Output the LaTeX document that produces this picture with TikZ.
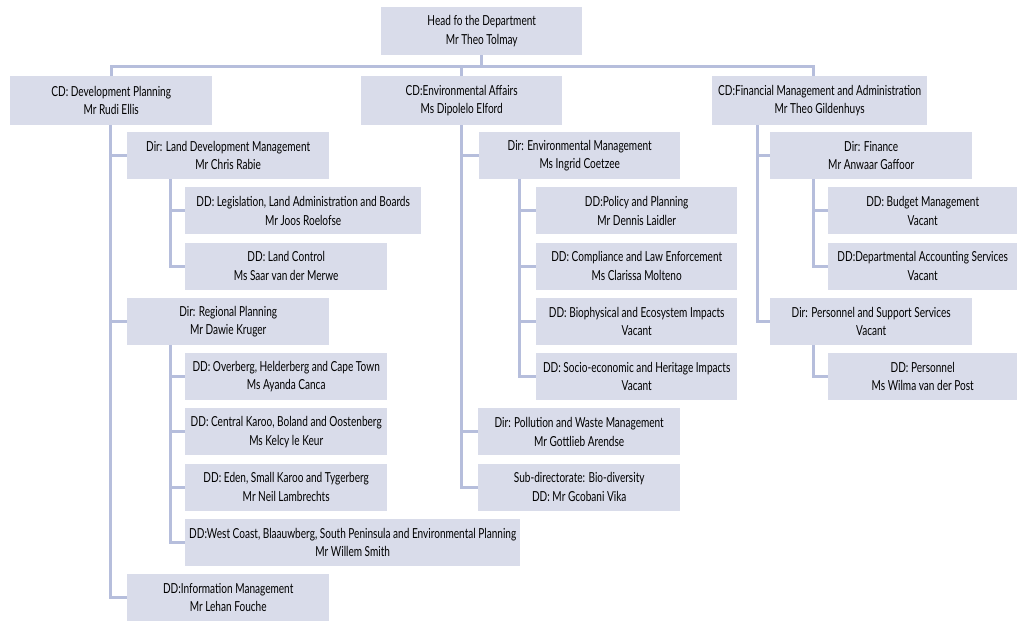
\documentclass[tikz,border=0pt]{standalone}
\usepackage{fontspec}
\setmainfont[FakeStretch=0.73]{Lato}
\usepackage{xcolor}
\usepackage{tikz}
\usetikzlibrary{positioning}

\definecolor{unitfill}{RGB}{217,220,234}
\definecolor{linkblue}{RGB}{182,190,220}

\begin{document}
\begin{tikzpicture}[
    x=1pt, y=-1pt,
    unit/.style={rectangle, fill=unitfill, anchor=north west, minimum width=202pt, minimum height=47pt, inner sep=0pt, align=center, font=\fontsize{13.8}{18.5}\selectfont},
    link/.style={draw=linkblue, line width=3pt}
]
\useasboundingbox (0,0) rectangle (1017,621);

% Head and chief directorates
\node[unit, minimum width=201pt, minimum height=48pt] (head) at (381,7) {Head fo the Department\\Mr Theo Tolmay};
\node[unit, minimum height=49pt] (cdplan) at (10,76) {CD: Development Planning\\Mr Rudi Ellis};
\node[unit, minimum width=201pt, minimum height=49pt] (cdenv) at (361,76) {CD:Environmental Affairs\\Ms Dipolelo Elford};
\node[unit, minimum width=215pt, minimum height=49pt] (cdfin) at (712,76) {CD:Financial Management and Administration\\Mr Theo Gildenhuys};

% Development Planning
\node[unit] (landdev) at (127,132) {Dir: Land Development Management\\Mr Chris Rabie};
\node[unit, minimum width=236pt] (legis) at (185,187.25) {DD: Legislation, Land Administration and Boards\\Mr Joos Roelofse};
\node[unit] (landctrl) at (185,242.5) {DD: Land Control\\Ms Saar van der Merwe};
\node[unit] (regplan) at (127,297.75) {Dir: Regional Planning\\Mr Dawie Kruger};
\node[unit] (overberg) at (185,353) {DD: Overberg, Helderberg and Cape Town\\Ms Ayanda Canca};
\node[unit] (ckaroo) at (185,408.25) {DD: Central Karoo, Boland and Oostenberg\\Ms Kelcy le Keur};
\node[unit] (eden) at (185,463.5) {DD: Eden, Small Karoo and Tygerberg\\Mr Neil Lambrechts};
\node[unit, minimum width=335pt] (westcoast) at (185,518.75) {DD:West Coast, Blaauwberg, South Peninsula and Environmental Planning\\Mr Willem Smith};
\node[unit] (infomgmt) at (127,574) {DD:Information Management\\Mr Lehan Fouche};

% Environmental Affairs
\node[unit, minimum width=201pt] (envmgmt) at (479,132) {Dir: Environmental Management\\Ms Ingrid Coetzee};
\node[unit, minimum width=201pt] (policy) at (536,187.25) {DD:Policy and Planning\\Mr Dennis Laidler};
\node[unit, minimum width=201pt] (compliance) at (536,242.5) {DD: Compliance and Law Enforcement\\Ms Clarissa Molteno};
\node[unit, minimum width=201pt] (biophys) at (536,297.75) {DD: Biophysical and Ecosystem Impacts\\Vacant};
\node[unit, minimum width=201pt] (socio) at (536,353) {DD: Socio-economic and Heritage Impacts\\Vacant};
\node[unit] (pollution) at (478,408.25) {Dir: Pollution and Waste Management\\Mr Gottlieb Arendse};
\node[unit] (biodiv) at (478,463.5) {Sub-directorate: Bio-diversity\\DD: Mr Gcobani Vika};

% Financial Management
\node[unit] (finance) at (770,132) {Dir: Finance\\Mr Anwaar Gaffoor};
\node[unit, minimum width=189pt] (budget) at (828,187.25) {DD: Budget Management\\Vacant};
\node[unit, minimum width=189pt] (accounting) at (828,242.5) {DD:Departmental Accounting Services\\Vacant};
\node[unit] (supportsvc) at (770,297.75) {Dir: Personnel and Support Services\\Vacant};
\node[unit, minimum width=189pt] (personnel) at (828,353) {DD: Personnel\\Ms Wilma van der Post};

% Top bar
\draw[link] (head.south) -- ++(0,11) coordinate (bar);
\draw[link] (cdplan.north) |- (bar) -| ([xshift=-6pt]cdfin.north);
\draw[link] (cdenv.north) -- (cdenv.north |- bar);

% Spines
\foreach \kid in {landdev, regplan, infomgmt}
    \draw[link] ([xshift=-1pt]cdplan.south) |- (\kid.west);
\foreach \kid in {legis, landctrl}
    \draw[link] ([xshift=43pt]landdev.south west) |- (\kid.west);
\foreach \kid in {overberg, ckaroo, eden, westcoast}
    \draw[link] ([xshift=43pt]regplan.south west) |- (\kid.west);
\foreach \kid in {envmgmt, pollution, biodiv}
    \draw[link] (cdenv.south) |- (\kid.west);
\foreach \kid in {policy, compliance, biophys, socio}
    \draw[link] ([xshift=40pt]envmgmt.south west) |- (\kid.west);
\foreach \kid in {finance, supportsvc}
    \draw[link] ([xshift=45pt]cdfin.south west) |- (\kid.west);
\foreach \kid in {budget, accounting}
    \draw[link] ([xshift=43pt]finance.south west) |- (\kid.west);
\draw[link] ([xshift=43pt]supportsvc.south west) |- (personnel.west);

\end{tikzpicture}
\end{document}
